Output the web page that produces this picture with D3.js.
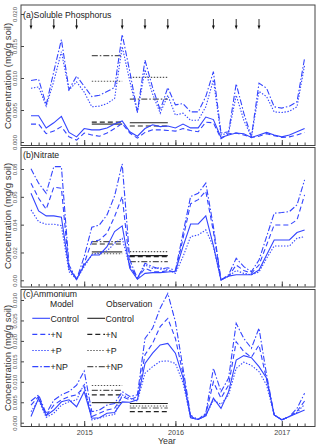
<!DOCTYPE html>
<html>
<head>
<meta charset="utf-8">
<script src="https://cdnjs.cloudflare.com/ajax/libs/d3/7.8.5/d3.min.js"></script>
<style>
  body { margin: 0; background: #fff; }
  svg { display: block; font-family: "Liberation Sans", Arial, sans-serif; }
</style>
</head>
<body>
<svg width="320" height="447"></svg>
<script>
// model output, one value per month (sample index 0..36)
var pControl = [0.0041,0.0041,0.0022,0.0030,0.0040,0.0015,0.0008,0.0021,0.0019,0.0019,0.0022,0.0028,0.0033,0.0016,0.0009,0.0021,0.0027,0.0024,0.0025,0.0022,0.0028,0.0022,0.0022,0.0039,0.0035,0.0007,0.0011,0.0014,0.0013,0.0007,0.0011,0.0015,0.0011,0.0008,0.0011,0.0016,0.0021];
var pN  = [0.0028,0.0028,0.0013,0.0017,0.0024,0.0008,0.0003,0.0014,0.0011,0.0009,0.0014,0.0021,0.0029,0.0014,0.0006,0.0015,0.0019,0.0019,0.0018,0.0017,0.0021,0.0018,0.0016,0.0031,0.0030,0.0005,0.0013,0.0014,0.0011,0.0007,0.0009,0.0013,0.0010,0.0007,0.0008,0.0011,0.0015];
var pP  = [0.0084,0.0086,0.0056,0.0095,0.0141,0.0081,0.0094,0.0078,0.0055,0.0056,0.0060,0.0068,0.0149,0.0095,0.0046,0.0113,0.0075,0.0045,0.0073,0.0042,0.0045,0.0034,0.0034,0.0055,0.0097,0.0011,0.0014,0.0073,0.0034,0.0008,0.0079,0.0071,0.0047,0.0046,0.0048,0.0055,0.0120];
var pNP = [0.0096,0.0098,0.0058,0.0110,0.0160,0.0082,0.0103,0.0087,0.0071,0.0073,0.0079,0.0085,0.0168,0.0110,0.0047,0.0128,0.0085,0.0050,0.0085,0.0058,0.0060,0.0047,0.0047,0.0071,0.0110,0.0014,0.0016,0.0091,0.0045,0.0008,0.0092,0.0084,0.0055,0.0053,0.0056,0.0063,0.0131];

var nControl = [0.0626,0.0499,0.0463,0.0463,0.0453,0.0086,0.0007,0.0110,0.0182,0.0182,0.0242,0.0350,0.0391,0.0086,0.0007,0.0050,0.0055,0.0055,0.0060,0.0065,0.0242,0.0405,0.0405,0.0463,0.0250,0.0002,0.0030,0.0040,0.0040,0.0040,0.0074,0.0182,0.0290,0.0290,0.0290,0.0343,0.0362];
var nN  = [0.0698,0.0590,0.0511,0.0669,0.0662,0.0086,0.0007,0.0122,0.0278,0.0290,0.0338,0.0458,0.0602,0.0110,0.0014,0.0086,0.0062,0.0060,0.0070,0.0060,0.0300,0.0550,0.0580,0.0640,0.0350,0.0003,0.0030,0.0110,0.0070,0.0050,0.0110,0.0254,0.0398,0.0398,0.0398,0.0434,0.0614];
var nP  = [0.0506,0.0422,0.0403,0.0403,0.0393,0.0062,0.0007,0.0098,0.0182,0.0199,0.0211,0.0266,0.0302,0.0098,0.0014,0.0110,0.0086,0.0090,0.0075,0.0050,0.0170,0.0314,0.0326,0.0362,0.0242,0.0002,0.0030,0.0070,0.0050,0.0040,0.0060,0.0158,0.0247,0.0247,0.0247,0.0302,0.0314];
var nNP = [0.0801,0.0698,0.0626,0.0817,0.0817,0.0110,0.0007,0.0170,0.0381,0.0398,0.0470,0.0606,0.0837,0.0146,0.0014,0.0122,0.0098,0.0080,0.0090,0.0070,0.0338,0.0602,0.0626,0.0698,0.0386,0.0002,0.0040,0.0158,0.0098,0.0062,0.0146,0.0314,0.0482,0.0487,0.0494,0.0542,0.0722];

var aControl = [0.0015,0.0060,0.0017,0.0031,0.0051,0.0056,0.0039,0.0076,0.0011,0.0012,0.0023,0.0025,0.0051,0.0050,0.0056,0.0145,0.0170,0.0190,0.0194,0.0170,0.0110,0.0012,0.0008,0.0017,0.0060,0.0035,0.0076,0.0153,0.0164,0.0159,0.0137,0.0109,0.0019,0.0007,0.0015,0.0023,0.0031];
var aN  = [0.0043,0.0064,0.0018,0.0043,0.0056,0.0064,0.0068,0.0088,0.0015,0.0023,0.0031,0.0035,0.0064,0.0056,0.0064,0.0166,0.0194,0.0235,0.0255,0.0206,0.0120,0.0015,0.0008,0.0020,0.0100,0.0060,0.0092,0.0198,0.0174,0.0160,0.0190,0.0105,0.0019,0.0007,0.0015,0.0028,0.0053];
var aP  = [0.0027,0.0056,0.0013,0.0023,0.0043,0.0051,0.0056,0.0095,0.0007,0.0011,0.0017,0.0020,0.0068,0.0060,0.0053,0.0121,0.0137,0.0150,0.0151,0.0145,0.0098,0.0012,0.0008,0.0017,0.0055,0.0045,0.0068,0.0133,0.0148,0.0140,0.0125,0.0092,0.0019,0.0007,0.0015,0.0025,0.0045];
var aNP = [0.0053,0.0068,0.0022,0.0055,0.0068,0.0076,0.0092,0.0126,0.0027,0.0031,0.0043,0.0047,0.0076,0.0064,0.0068,0.0206,0.0231,0.0280,0.0316,0.0247,0.0133,0.0018,0.0008,0.0023,0.0133,0.0076,0.0109,0.0243,0.0206,0.0182,0.0231,0.0117,0.0019,0.0007,0.0015,0.0035,0.0072];

// observed season means: [first period, second period], order Control, +N, +P, +NP
var obsPeriods = [[8, 12], [13, 18]];
var pObs = [[0.0028, 0.0030], [0.0031, 0.0025], [0.0095, 0.0101], [0.0135, 0.0067]];
var nObs = [[0.0204, 0.0177], [0.0261, 0.0170], [0.0191, 0.0206], [0.0278, 0.0134]];
var aObs = [[0.0049, 0.0047], [0.0068, 0.0027], [0.0091, 0.0041], [0.0079, 0.0036]];

var treatments = ["Control", "+N", "+P", "+NP"];
var yearTicks = [7, 19, 33];
var yearLabels = ["2015", "2016", "2017"];
var fertArrows = [0, 3, 6, 12, 15, 18, 24, 27, 30];
var nMonths = 37;

var dashes = [null, "5,3", "1.4,1.6", "6,2,1.5,2"];
var obsColor = ["#222", "#222", "#555", "#555"];
var blue = "#3344ff";

var svg = d3.select("svg");
var left = 21, right = 315;
var x = d3.scaleLinear().domain([0, nMonths - 1]).range([31, 304.6]);

var panels = [
  { label: "(a)Soluble Phosphorus", top: 5, bottom: 145.5, y0: 142, y1: 14, max: 0.020,
    ticks: [0, 0.005, 0.010, 0.015, 0.020], fmt: ".3f", model: [pControl, pN, pP, pNP], obs: pObs, cy: 76, ly: 17.5 },
  { label: "(b)Nitrate", top: 147.5, bottom: 287, y0: 280.3, y1: 169, max: 0.08,
    ticks: [0, 0.02, 0.04, 0.06, 0.08], fmt: ".2f", model: [nControl, nN, nP, nNP], obs: nObs, cy: 216, ly: 158 },
  { label: "(c)Ammonium", top: 289.5, bottom: 426.5, y0: 422.7, y1: 300, max: 0.030,
    ticks: [0, 0.005, 0.010, 0.015, 0.020, 0.025, 0.030], fmt: ".3f", model: [aControl, aN, aP, aNP], obs: aObs, cy: 358, ly: 297.2 }
];

panels.forEach(function(p, k) {
  var y = d3.scaleLinear().domain([0, p.max]).range([p.y0, p.y1]);
  var g = svg.append("g");

  g.append("rect")
    .attr("x", left).attr("y", p.top)
    .attr("width", right - left).attr("height", p.bottom - p.top)
    .attr("fill", "none").attr("stroke", "#444").attr("stroke-width", 1);

  // y axis, ticks inward, labels rotated
  var yAxis = g.append("g")
    .attr("transform", "translate(" + left + ",0)")
    .call(d3.axisLeft(y).tickValues(p.ticks).tickSize(-3).tickFormat(d3.format(p.fmt)));
  yAxis.select(".domain").remove();
  yAxis.selectAll("line").attr("stroke", "#444");
  yAxis.selectAll("text")
    .attr("x", 0).attr("y", -4.5).attr("dy", null)
    .attr("transform", "rotate(-90)")
    .attr("text-anchor", "middle")
    .attr("font-size", 6).attr("fill", "#555");

  // x axis ticks along the bottom, inward
  var xAxis = g.append("g")
    .attr("transform", "translate(0," + (p.bottom - 0.5) + ")")
    .call(d3.axisBottom(x).tickValues(d3.range(nMonths)).tickSize(-2.5).tickFormat(""));
  xAxis.select(".domain").remove();
  xAxis.selectAll("line").attr("stroke", "#444");
  var xMajor = g.append("g")
    .attr("transform", "translate(0," + (p.bottom - 0.5) + ")")
    .call(d3.axisBottom(x).tickValues(yearTicks).tickSize(-5).tickFormat(function(d, i) { return yearLabels[i]; }));
  xMajor.select(".domain").remove();
  xMajor.selectAll("line").attr("stroke", "#444");
  xMajor.selectAll("text")
    .attr("y", 3.5).attr("dy", "0.71em")
    .attr("font-size", 7.2).attr("fill", "#444")
    .style("display", k == 2 ? null : "none");

  g.append("text")
    .attr("transform", "translate(11," + p.cy + ") rotate(-90)")
    .attr("text-anchor", "middle")
    .attr("font-size", 9.5).attr("fill", "#333")
    .text("Concentration (mg/g soil)");

  g.append("text")
    .attr("x", 23).attr("y", p.ly)
    .attr("font-size", 8.7).attr("fill", "#222")
    .text(p.label);

  // observations
  p.obs.forEach(function(vals, s) {
    obsPeriods.forEach(function(per, j) {
      g.append("line")
        .attr("x1", x(per[0])).attr("x2", x(per[1]))
        .attr("y1", y(vals[j])).attr("y2", y(vals[j]))
        .attr("stroke", obsColor[s]).attr("stroke-width", 1.1)
        .attr("stroke-dasharray", dashes[s]);
    });
  });

  // model lines
  var line = d3.line()
    .x(function(d, i) { return x(i); })
    .y(function(d) { return y(d); });

  g.selectAll("path.model")
    .data(p.model)
    .enter().append("path")
    .attr("class", "model")
    .attr("d", line)
    .attr("fill", "none")
    .attr("stroke", blue)
    .attr("stroke-width", 1.1)
    .attr("stroke-dasharray", function(d, i) { return dashes[i]; });
});

// fertilization arrows in panel a
var arrows = svg.append("g").selectAll("g")
  .data(fertArrows)
  .enter().append("g")
  .attr("transform", function(d) { return "translate(" + x(d) + ",0)"; });
arrows.append("line")
  .attr("y1", 19).attr("y2", 27)
  .attr("stroke", "#111").attr("stroke-width", 0.9);
arrows.append("path")
  .attr("d", "M-1.4,25.5L1.4,25.5L0,29.5Z")
  .attr("fill", "#111");

// legend in panel c
var legend = svg.append("g");
legend.append("text").attr("x", 50).attr("y", 306.8).attr("font-size", 8.6).attr("fill", "#222").text("Model");
legend.append("text").attr("x", 106).attr("y", 306.8).attr("font-size", 8.6).attr("fill", "#222").text("Observation");
var rows = legend.selectAll("g.row")
  .data(treatments)
  .enter().append("g")
  .attr("class", "row")
  .attr("transform", function(d, i) { return "translate(0," + (318.3 + i * 16.1) + ")"; });
rows.append("line")
  .attr("x1", 32.3).attr("x2", 50)
  .attr("stroke", blue).attr("stroke-width", 1.1)
  .attr("stroke-dasharray", function(d, i) { return dashes[i]; });
rows.append("text")
  .attr("x", 50.5).attr("y", 3.2)
  .attr("font-size", 8.8).attr("fill", "#222")
  .text(function(d) { return d; });
rows.append("line")
  .attr("x1", 87.3).attr("x2", 105)
  .attr("stroke", function(d, i) { return obsColor[i]; }).attr("stroke-width", 1.1)
  .attr("stroke-dasharray", function(d, i) { return dashes[i]; });
rows.append("text")
  .attr("x", 105.5).attr("y", 3.2)
  .attr("font-size", 8.8).attr("fill", "#222")
  .text(function(d) { return d; });

svg.append("text")
  .attr("x", 158).attr("y", 444)
  .attr("font-size", 8.8).attr("fill", "#333")
  .text("Year");
</script>
</body>
</html>
